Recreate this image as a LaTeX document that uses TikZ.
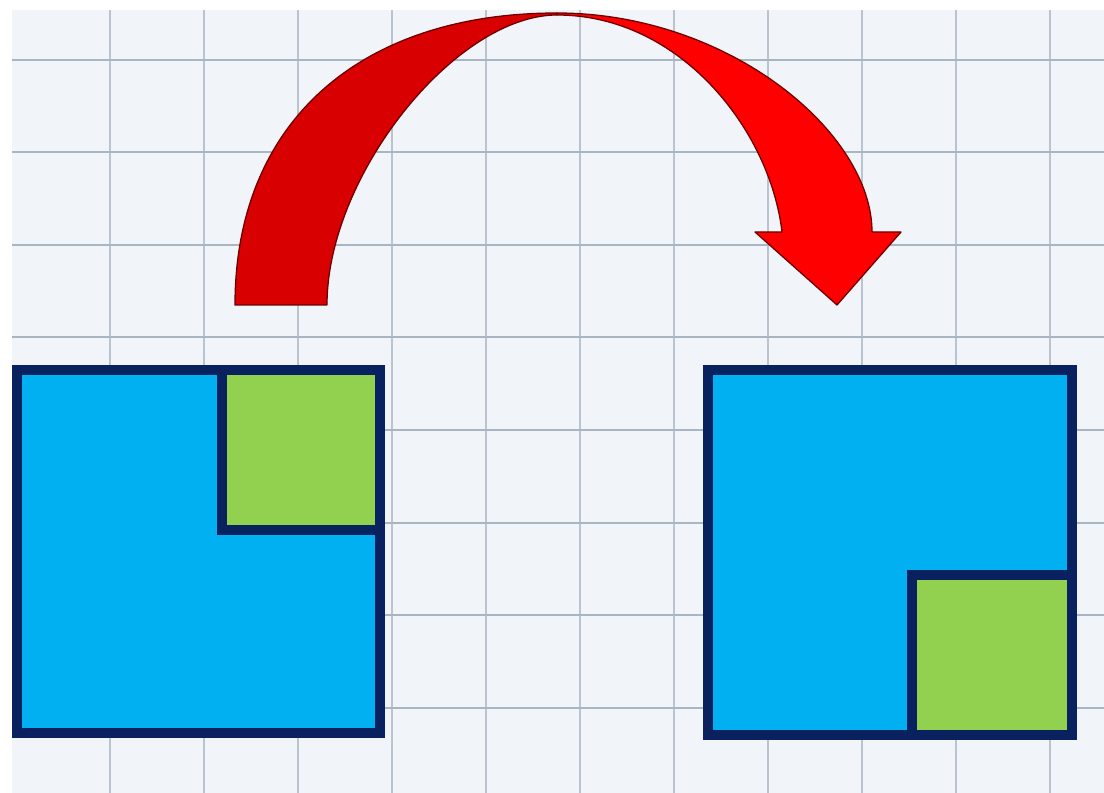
\documentclass[tikz,border=0pt]{standalone}
\definecolor{paper}{HTML}{F1F4F9}
\definecolor{gridv}{HTML}{BAC4D1}
\definecolor{gridh}{HTML}{AAB5C3}
\definecolor{navy}{HTML}{0A2160}
\definecolor{skyblue}{HTML}{00B0F0}
\definecolor{leafgreen}{HTML}{92D050}
\definecolor{arrowred}{HTML}{FF0000}
\definecolor{arrowdark}{HTML}{D80000}
\definecolor{arrowline}{HTML}{6A0000}
\begin{document}
\begin{tikzpicture}[x=0.025cm, y=-0.025cm,
  bigsq/.style={fill=skyblue, draw=navy, line width=0.25cm, line join=miter},
  smallsq/.style={fill=leafgreen, draw=navy, line width=0.25cm, line join=miter},
  vline/.style={draw=gridv, line width=0.035cm},
  hline/.style={draw=gridh, line width=0.05cm},
  arrowpart/.style={draw=arrowline, line width=0.9pt, line join=round}]
\useasboundingbox (0,0) rectangle (1104,793);
\fill[white] (0,0) rectangle (1104,793);
\fill[paper] (12,10) rectangle (1104,793);
\foreach \gx in {110,204,...,1050} \draw[vline] (\gx,10) -- (\gx,793);
\foreach \gy in {60,152.5,...,710} \draw[hline] (12,\gy) -- (1104,\gy);
% key points of the curved arrow
\coordinate (top) at (557,13);
\coordinate (topin) at (557,15);
\coordinate (footL) at (235,305);
\coordinate (footR) at (327,305);
\coordinate (shaftR) at (872,232);
\coordinate (shaftL) at (782,232);
\coordinate (barbR) at (901,232);
\coordinate (tip) at (837,305);
\coordinate (barbL) at (755,232);
% curved arrow: left (back) half
\draw[arrowpart, fill=arrowdark]
  (footL) .. controls (235,122) and (360,13) .. (top)
  -- (topin) .. controls (456,15) and (327,175) .. (footR) -- cycle;
% curved arrow: right (front) half with head
\draw[arrowpart, fill=arrowred]
  (top) .. controls (728,13) and (872,132) .. (shaftR)
  -- (barbR) -- (tip) -- (barbL) -- (shaftL)
  .. controls (770,130) and (680,15) .. (topin) -- cycle;
% left square
\draw[bigsq] (17,370) coordinate (L1) rectangle (380,733) coordinate (L2);
\draw[smallsq] (222,370) coordinate (LG1) rectangle (380,530) coordinate (LG2);
% right square
\draw[bigsq] (708,370) coordinate (R1) rectangle (1072,735) coordinate (R2);
\draw[smallsq] (912,575) coordinate (RG1) rectangle (1072,735) coordinate (RG2);
\end{tikzpicture}
\end{document}
